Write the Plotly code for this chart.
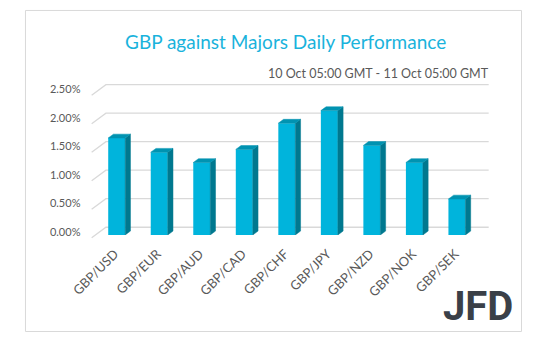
import plotly.graph_objects as go

categories = ["GBP/USD", "GBP/EUR", "GBP/AUD", "GBP/CAD", "GBP/CHF",
              "GBP/JPY", "GBP/NZD", "GBP/NOK", "GBP/SEK"]
values = [1.70, 1.45, 1.27, 1.50, 1.96, 2.18, 1.57, 1.27, 0.63]
y_ticks = [0.0, 0.5, 1.0, 1.5, 2.0, 2.5]

W, H = 538, 351
# the page body keeps its default 8px margin: the figure is drawn inside it
OX, OY = 8, 8
FW, FH = W - 2 * OX, H - 2 * OY

# bar plane (page pixels)
BX0, BX1 = 82, 484
BY0 = 242
PX_PER_PCT = 59.32
YMAX = 2.5
BY1 = BY0 - PX_PER_PCT * YMAX
# back wall offset & front plane offset (pixels)
BACK_DX, BACK_DY = 11, -8
FRONT_DX, FRONT_DY = -4, 3

px_per_cat = (BX1 - BX0) / len(categories)
bar_w = 0.4
dx = 5.5 / px_per_cat
dy = 4.0 / PX_PER_PCT

FRONT = "#00b4dc"
SIDE = "#00788f"
TOP = "#0093b1"
GRID = "#d9d9d9"
TXT = "#595959"


def px(x):
    return (x - OX) / FW


def py(y):
    return 1 - (y - OY) / FH


fig = go.Figure()

xs = list(range(len(categories)))
fig.add_trace(go.Bar(x=xs, y=values, width=bar_w, marker=dict(color=FRONT, line=dict(width=0)),
                     hoverinfo="skip"))

for i, v in zip(xs, values):
    r = i + bar_w / 2
    l = i - bar_w / 2
    fig.add_trace(go.Scatter(x=[r, r + dx, r + dx, r, r], y=[0, dy, v + dy, v, 0],
                             fill="toself", fillcolor=SIDE, mode="lines",
                             line=dict(color=SIDE, width=0.5), hoverinfo="skip"))
    fig.add_trace(go.Scatter(x=[l, r, r + dx, l + dx, l], y=[v, v, v + dy, v + dy, v],
                             fill="toself", fillcolor=TOP, mode="lines",
                             line=dict(color=TOP, width=0.5), hoverinfo="skip"))

shapes = []
for t in y_ticks:
    yb = BY0 + BACK_DY - t * PX_PER_PCT
    yf = BY0 + FRONT_DY - t * PX_PER_PCT
    xb0 = BX0 + BACK_DX
    xb1 = BX1 + BACK_DX
    xf0 = BX0 + FRONT_DX
    shapes.append(dict(type="path", xref="paper", yref="paper", layer="below",
                       path=f"M {px(xf0)},{py(yf)} L {px(xb0)},{py(yb)} L {px(xb1)},{py(yb)}",
                       line=dict(color=GRID, width=1.3)))

# outer frame
shapes.append(dict(type="rect", xref="paper", yref="paper",
                   x0=0.5 / FW, x1=1 - 0.5 / FW, y0=0.5 / FH, y1=1 - 0.5 / FH,
                   line=dict(color="#d9d9d9", width=1)))

annotations = [
    dict(text="GBP against Majors Daily Performance", x=px(282), y=py(41),
         xref="paper", yref="paper", xanchor="center", yanchor="middle", showarrow=False,
         font=dict(family="Lato", size=19, color="#1ab3dc")),
    dict(text="10 Oct 05:00 GMT - 11 Oct 05:00 GMT", x=px(497), y=py(74),
         xref="paper", yref="paper", xanchor="right", yanchor="middle", showarrow=False,
         font=dict(family="Lato", size=12.5, color=TXT)),
    dict(text="<b>JFD</b>", x=px(523), y=0, xref="paper", yref="paper",
         xanchor="right", yanchor="bottom", showarrow=False,
         font=dict(family="Roboto", size=40, color="#3a4048")),
]

fig.update_layout(
    width=FW, height=FH, autosize=False,
    margin=dict(l=0, r=0, t=0, b=0, pad=0),
    paper_bgcolor="white", plot_bgcolor="rgba(0,0,0,0)",
    showlegend=False,
    shapes=shapes, annotations=annotations,
    font=dict(family="Lato", color=TXT),
    xaxis=dict(domain=[px(BX0), px(BX1)], range=[-0.5, len(categories) - 0.5],
               tickmode="array", tickvals=xs, ticktext=categories, tickangle=-45,
               showgrid=False, zeroline=False, showline=False, ticks="",
               tickfont=dict(size=13, color=TXT), ticklabelstandoff=8,
               ticklabelshift=-2, fixedrange=True),
    yaxis=dict(domain=[py(BY0), py(BY1)], range=[0, YMAX],
               tickmode="array", tickvals=y_ticks,
               ticktext=[f"{t:.2f}%" for t in y_ticks],
               showgrid=False, zeroline=False, showline=False, ticks="",
               tickfont=dict(size=11, color=TXT), ticklabelshift=-3,
               ticklabelstandoff=14, fixedrange=True),
)

fig.write_html("out.html", config={"displayModeBar": False})
